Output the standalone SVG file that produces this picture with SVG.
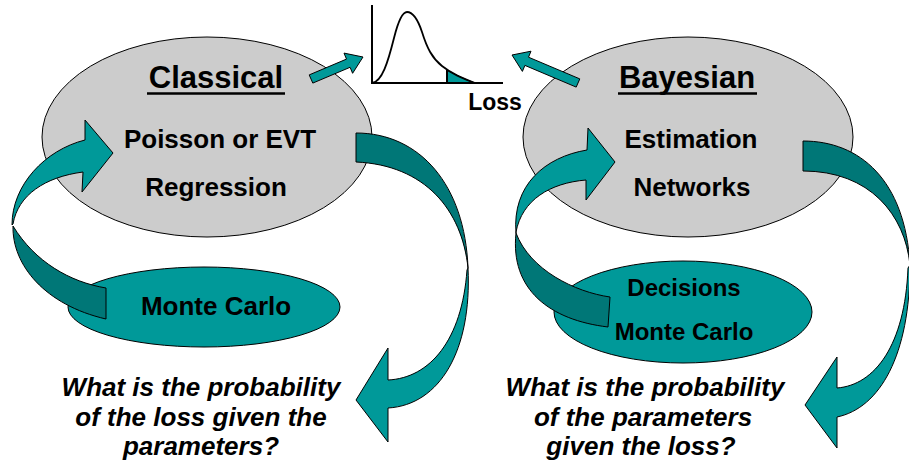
<svg xmlns="http://www.w3.org/2000/svg" width="909" height="468" viewBox="0 0 909 468">
  <style>
    .grey { fill: #cccccc; stroke: #000; stroke-width: 1; }
    .teal { fill: #009999; stroke: #000; stroke-width: 1; }
    .dark { fill: #007777; stroke: #000; stroke-width: 1; }
    .lbl { font-family: "Liberation Sans", Arial, sans-serif; font-weight: bold; fill: #000; text-anchor: middle; }
    .title { font-size: 31px; }
    .body { font-size: 26px; }
    .small { font-size: 24px; }
    .q { font-family: "Liberation Sans", Arial, sans-serif; font-weight: bold; font-style: italic; font-size: 26px; fill: #000; text-anchor: middle; }
    .axis { fill: none; stroke: #000; stroke-width: 2; }
    .ul { stroke: #000; stroke-width: 2.5; }
  </style>

  <!-- Loss distribution sketch -->
  <g id="loss-chart">
    <path d="M447,70 C456,75 464,79 475,83 L447,83 Z" class="teal"/>
    <path d="M372,83 C382,82 388,62 394,38 C398,22 402,12 407,12 C413,12 418,20 422,32 C427,48 432,58 442,66 C452,74 462,78 475,83" fill="none" stroke="#000" stroke-width="1.8"/>
    <line x1="447" y1="70" x2="447" y2="83" stroke="#000" stroke-width="2"/>
    <path d="M372,5 L372,83 L503,83" class="axis"/>
    <text x="495" y="110" class="lbl" style="font-size:23px">Loss</text>
  </g>

  <!-- Classical approach -->
  <g id="classical">
    <ellipse cx="207" cy="137" rx="165" ry="100" class="grey"/>
    <text x="216" y="88" class="lbl title">Classical</text>
    <line x1="147" y1="93.5" x2="285" y2="93.5" class="ul"/>
    <text x="220" y="148" class="lbl body">Poisson or EVT</text>
    <text x="216" y="196" class="lbl body">Regression</text>
  </g>

  <g id="monte-carlo-classical">
    <ellipse cx="204" cy="307" rx="136" ry="40" class="teal"/>
    <text x="216" y="315" class="lbl body">Monte Carlo</text>
  </g>

  <!-- Bayesian approach -->
  <g id="bayesian">
    <ellipse cx="688" cy="137" rx="165" ry="100" class="grey"/>
    <text x="687" y="88" class="lbl title">Bayesian</text>
    <line x1="618" y1="93.5" x2="757" y2="93.5" class="ul"/>
    <text x="691" y="148" class="lbl body">Estimation</text>
    <text x="692" y="196" class="lbl body">Networks</text>
  </g>

  <g id="monte-carlo-bayesian">
    <ellipse cx="683" cy="312" rx="129" ry="51" class="teal"/>
    <text x="684" y="296" class="lbl small">Decisions</text>
    <text x="684" y="340" class="lbl small">Monte Carlo</text>
  </g>

  <!-- Questions -->
  <g id="question-classical">
    <text x="201" y="396" class="q">What is the probability</text>
    <text x="201" y="426" class="q">of the loss given the</text>
    <text x="201" y="455" class="q">parameters?</text>
  </g>
  <g id="question-bayesian">
    <text x="645" y="396" class="q">What is the probability</text>
    <text x="643" y="426" class="q">of the parameters</text>
    <text x="641" y="455" class="q">given the loss?</text>
  </g>

  <!-- Connectors -->
  <g id="connectors">
    <!-- straight arrows into the loss chart -->
    <polygon points="309.2,74.9 346.5,59.1 344.0,53.1 363,57 352.6,73.3 350.1,67.3 312.8,83.1" class="teal"/>
    <polygon points="579.8,78.9 528.5,57.2 531.0,51.2 512,55 522.4,71.4 524.9,65.4 576.2,87.1" class="teal"/>

    <!-- Monte Carlo to Classical loop -->
    <path d="M106,288 C70,282 35,262 13,226 C12,265 45,305 106,319 Z" class="dark"/>
    <path d="M12,225 C12,185 45,150 85,140 L85,120 L113,153 L82,192 L83,172 C45,177 18,195 13,224 Z" class="teal"/>

    <!-- Classical down to question -->
    <path d="M356,133 C420,133 465,185 468,268 C462,210 425,165 356,162 Z" class="dark"/>
    <path d="M468,268 C472,350 440,405 388,408 L388,442 L356,400 L388,348 L388,380 C430,378 462,340 467,270 Z" class="teal"/>

    <!-- Monte Carlo to Bayesian loop -->
    <path d="M610,297 C575,292 530,270 516,233 C510,290 550,320 608,327 Z" class="dark"/>
    <path d="M516,233 C512,185 545,157 587,150 L588,128 L615,162 L586,200 L586,180 C550,183 522,200 516,232 Z" class="teal"/>

    <!-- Bayesian down to question -->
    <path d="M803,141 C860,141 905,180 910,265 C905,215 870,171 803,171 Z" class="dark"/>
    <path d="M910,265 C910,355 880,408 837,417 L837,448 L805,405 L837,357 L837,388 C875,385 905,345 908,268 Z" class="teal"/>
  </g>
</svg>
